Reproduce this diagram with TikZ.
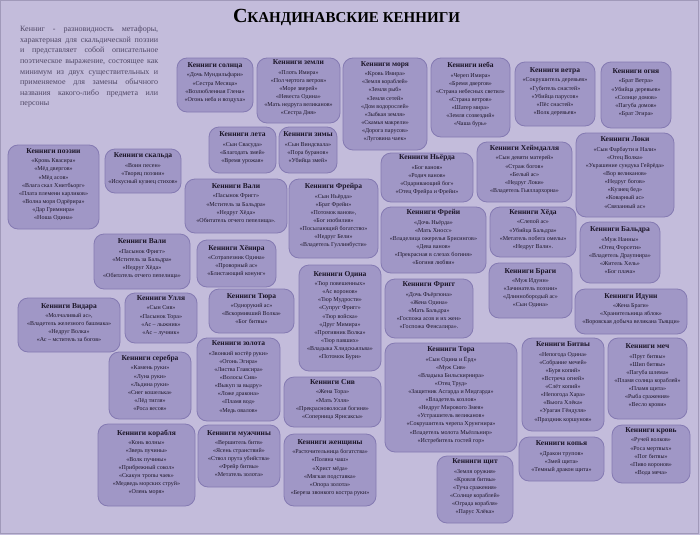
\documentclass[tikz,border=0pt]{standalone}
\usepackage{fontspec}
\setmainfont{Liberation Serif}
\usetikzlibrary{fit}
\definecolor{bg}{RGB}{195,188,219}
\definecolor{boxfill}{RGB}{160,151,198}
\definecolor{boxline}{RGB}{132,122,178}
\definecolor{ink}{RGB}{28,22,40}
\definecolor{introink}{RGB}{80,72,102}
\definecolor{frame}{RGB}{160,153,185}
\tikzset{
  kbox/.style={draw=boxline, fill=boxfill, line width=0.8pt, rounded corners=10pt,
    inner sep=0pt, align=center, text=ink, font=\fontsize{6}{8.1}\selectfont},
  intro/.style={anchor=north west, inner sep=0pt, text width=138pt, align=justify,
    text=introink, font=\fontsize{8}{10.6}\selectfont},
  titlestyle/.style={inner sep=0pt, text=black}
}
\newcommand\ktitle[1]{{\fontsize{7.5}{8.1}\selectfont\bfseries #1}\\[1.4pt]}
\newcommand\kb[6]{\node[kbox, fit={(#2,#3) (#4,#5)}] (#1) {#6};}
\begin{document}
\begin{tikzpicture}[x=1pt,y=-1pt]
\useasboundingbox (0,0) rectangle (700,535);
\fill[bg] (0,0) rectangle (700,535);
\draw[frame, line width=1pt] (0.5,0.5) rectangle (698,533.5);

\node[titlestyle] (title) at (346.5,17.5) {\resizebox{227pt}{!}{\bfseries{\fontsize{20}{20}\selectfont С}{\fontsize{15}{15}\selectfont КАНДИНАВСКИЕ КЕННИГИ}}};

\node[intro] (introtext) at (20,26) {Кенниг - разновидность метафоры,\linebreak
характерная для скальдической поэзии\linebreak
и представляет собой описательное\linebreak
поэтическое выражение, состоящее как\linebreak
минимум из двух существительных и\linebreak
применяемое для замены обычного\linebreak
названия какого-либо предмета или\linebreak
персоны};

\kb{poezii}{8}{145}{99}{229}{\ktitle{Кенниги поэзии}«Кровь Квасира»\\«Мёд двергов»\\«Мёд асов»\\«Влага скал Хнитбьорг»\\«Плата племени карликов»\\«Волна моря Одрёрира»\\«Дар Гримнира»\\«Ноша Одина»}
\kb{skalda}{105}{149}{181}{193}{\ktitle{Кенниги скальда}«Воин песен»\\«Творец поэзии»\\«Искусный кузнец стихов»}
\kb{solnca}{177}{58}{253}{112}{\ktitle{Кенниги солнца}«Дочь Мундильфари»\\«Сестра Месяца»\\«Возлюбленная Глена»\\«Огонь неба и воздуха»}
\kb{zemli}{257}{58}{340}{123}{\ktitle{Кенниги земли}«Плоть Имира»\\«Пол чертога ветров»\\«Море зверей»\\«Невеста Одина»\\«Мать недруга великанов»\\«Сестра Дня»}
\kb{morya}{343}{58}{427}{150}{\ktitle{Кенниги моря}«Кровь Имира»\\«Земля кораблей»\\«Земля рыб»\\«Земля сетей»\\«Дом водорослей»\\«Зыбкая земля»\\«Скамья макрели»\\«Дорога парусов»\\«Луговина чаек»}
\kb{neba}{431}{58}{510}{137}{\ktitle{Кенниги неба}«Череп Имира»\\«Бремя двергов»\\«Страна небесных светил»\\«Страна ветров»\\«Шатер мира»\\«Земля созвездий»\\«Чаша бурь»}
\kb{vetra}{515}{62}{595}{126}{\ktitle{Кенниги ветра}«Сокрушитель деревьев»\\«Губитель снастей»\\«Убийца парусов»\\«Пёс снастей»\\«Волк деревьев»}
\kb{ognya}{601}{62}{671}{128}{\ktitle{Кенниги огня}«Брат Ветра»\\«Убийца деревьев»\\«Солнце домов»\\«Пагуба домов»\\«Брат Эгира»}
\kb{leta}{209}{127}{276}{173}{\ktitle{Кенниги лета}«Сын Свасуда»\\«Благодать змей»\\«Время урожая»}
\kb{zimy}{279}{127}{337}{173}{\ktitle{Кенниги зимы}«Сын Виндсвала»\\«Пора буранов»\\«Убийца змей»}
\kb{valia}{185}{179}{287}{233}{\ktitle{Кенниги Вали}«Пасынок Фригг»\\«Мститель за Бальдра»\\«Недруг Хёда»\\«Обитатель отчего пепелища».}
\kb{freyra}{289}{179}{378}{258}{\ktitle{Кенниги Фрейра}«Сын Ньёрда»\\«Брат Фрейи»\\«Потомок ванов»,\\«Бог изобилия»\\«Посылающий богатство»\\«Недруг Бели»\\«Владетель Гуллинбусти»}
\kb{njorda}{381}{153}{473}{202}{\ktitle{Кенниги Ньёрда}«Бог ванов»\\«Родич ванов»\\«Одаривающий бог»\\«Отец Фрейра и Фрейи»}
\kb{heimdall}{477}{142}{572}{202}{\ktitle{Кенниги Хеймдалля}«Сын девяти матерей»\\«Страж богов»\\«Белый ас»\\«Недруг Локи»\\«Владетель Гьяллархорна»}
\kb{loki}{576}{133}{674}{217}{\ktitle{Кенниги Локи}«Сын Фарбаути и Нали»\\«Отец Волка»\\«Украшение сундука Гейрёда»\\«Вор великанов»\\«Недруг богов»\\«Кузнец бед»\\«Коварный ас»\\«Связанный ас»}
\kb{hyoda}{490}{207}{576}{257}{\ktitle{Кенниги Хёда}«Слепой ас»\\«Убийца Бальдра»\\«Метатель побега омелы»\\«Недруг Вали».}
\kb{freyi}{381}{207}{486}{273}{\ktitle{Кенниги Фрейи}«Дочь Ньёрда»\\«Мать Хносс»\\«Владелица ожерелья Брисингов»\\«Дева ванов»\\«Прекрасная в слезах богиня»\\«Богиня любви»}
\kb{baldra}{580}{222}{660}{283}{\ktitle{Кенниги Бальдра}«Муж Нанны»\\«Отец Форсети»\\«Владетель Драупнира»\\«Житель Хель»\\«Бог плача»}
\kb{valib}{94}{234}{190}{289}{\ktitle{Кенниги Вали}«Пасынок Фригг»\\«Мститель за Бальдра»\\«Недруг Хёда»\\«Обитатель отчего пепелища»}
\kb{honira}{197}{240}{276}{287}{\ktitle{Кенниги Хёнира}«Сотрапезник Одина»\\«Проворный ас»\\«Блистающий конунг»}
\kb{vidara}{18}{298}{120}{352}{\ktitle{Кенниги Видара}«Молчаливый ас»,\\«Владетель железного башмака»\\«Недруг Волка»\\«Ас – мститель за богов»}
\kb{ullya}{125}{293}{197}{343}{\ktitle{Кенниги Улля}«Сын Сив»\\«Пасынок Тора»\\«Ас – лыжник»\\«Ас – лучник»}
\kb{tyura}{209}{289}{294}{333}{\ktitle{Кенниги Тюра}«Однорукий ас»\\«Вскормивший Волка»\\«Бог битвы»}
\kb{odina}{299}{265}{381}{371}{\ktitle{Кенниги Одина}«Тюр повешенных»\\«Ас воронов»\\«Тюр Мудрости»\\«Супруг Фригг»\\«Тюр войска»\\«Друг Мимира»\\«Противник Волка»\\«Тюр павших»\\«Владыка Хлидскьяльва»\\«Потомок Бури»}
\kb{frigg}{385}{279}{473}{338}{\ktitle{Кенниги Фригг}«Дочь Фьёргюна»\\«Жена Одина»\\«Мать Бальдра»\\«Госпожа асов и их жен»\\«Госпожа Фенсалира».}
\kb{bragi}{489}{263}{572}{318}{\ktitle{Кенниги Браги}«Муж Идунн»\\«Зачинатель поэзии»\\«Длиннобородый ас»\\«Сын Одина»}
\kb{idunn}{575}{289}{687}{334}{\ktitle{Кенниги Идунн}«Жена Браги»\\«Хранительница яблок»\\«Воровская добыча великана Тьяцци»}
\kb{serebra}{109}{352}{191}{419}{\ktitle{Кенниги серебра}«Камень руки»\\«Луна руки»\\«Льдина руки»\\«Снег кошелька»\\«Лёд тигля»\\«Роса весов»}
\kb{zolota}{197}{338}{280}{421}{\ktitle{Кенниги золота}«Звонкий костёр руки»\\«Огонь Эгира»\\«Листва Главсира»\\«Волосы Сив»\\«Выкуп за выдру»\\«Ложе дракона»\\«Пламя вод»\\«Медь овалов»}
\kb{siv}{284}{377}{381}{427}{\ktitle{Кенниги Сив}«Жена Тора»\\«Мать Улля»\\«Прекрасноволосая богиня»\\«Соперница Ярнсаксы»}
\kb{tora}{385}{343}{517}{452}{\ktitle{Кенниги Тора}«Сын Одина и Ёрд»\\«Муж Сив»\\«Владыка Бильскирнира»\\«Отец Труд»\\«Защитник Асгарда и Мидгарда»\\«Владетель козлов»\\«Недруг Мирового Змея»\\«Устрашитель великанов»\\«Сокрушитель черепа Хрунгнира»\\«Владетель молота Мьёлльнир»\\«Истребитель гостей гор»}
\kb{bitvy}{522}{338}{604}{431}{\ktitle{Кенниги Битвы}«Непогода Одина»\\«Собрание мечей»\\«Буря копий»\\«Встреча огней»\\«Слёт копий»\\«Непогода Хара»\\«Вьюга Хлёка»\\«Ураган Гёндуля»\\«Праздник коршунов»}
\kb{mech}{608}{338}{687}{419}{\ktitle{Кенниги меч}«Прут битвы»\\«Шип битвы»\\«Пагуба шлема»\\«Пламя солнца кораблей»\\«Пламя щита»\\«Рыба сражения»\\«Весло крови»}
\kb{korablya}{98}{424}{195}{506}{\ktitle{Кенниги корабля}«Конь волны»\\«Зверь пучины»\\«Волк пучины»\\«Прибрежный сокол»\\«Скакун тропы чаек»\\«Медведь морских струй»\\«Олень моря»}
\kb{muzhchiny}{198}{425}{280}{487}{\ktitle{Кенниги мужчины}«Вершитель битв»\\«Ясень странствий»\\«Ствол прута убийства»\\«Фрейр битвы»\\«Метатель золота»}
\kb{zhenshchiny}{284}{434}{376}{506}{\ktitle{Кенниги женщины}«Расточительница богатства»\\«Поляна чаш»\\«Христ мёда»\\«Мягкая подставка»\\«Опора золота»\\«Береза звонкого костра руки»}
\kb{shchit}{437}{456}{513}{523}{\ktitle{Кенниги щит}«Земля оружия»\\«Кровля битвы»\\«Туча сражения»\\«Солнце кораблей»\\«Ограда корабля»\\«Парус Хлёка»}
\kb{kopya}{519}{437}{604}{481}{\ktitle{Кенниги копья}«Дракон трупов»\\«Змей щита»\\«Темный дракон щита»}
\kb{krov}{612}{425}{690}{483}{\ktitle{Кенниги кровь}«Ручей волков»\\«Роса мертвых»\\«Пот битвы»\\«Пиво воронов»\\«Вода меча»}
\end{tikzpicture}
\end{document}
